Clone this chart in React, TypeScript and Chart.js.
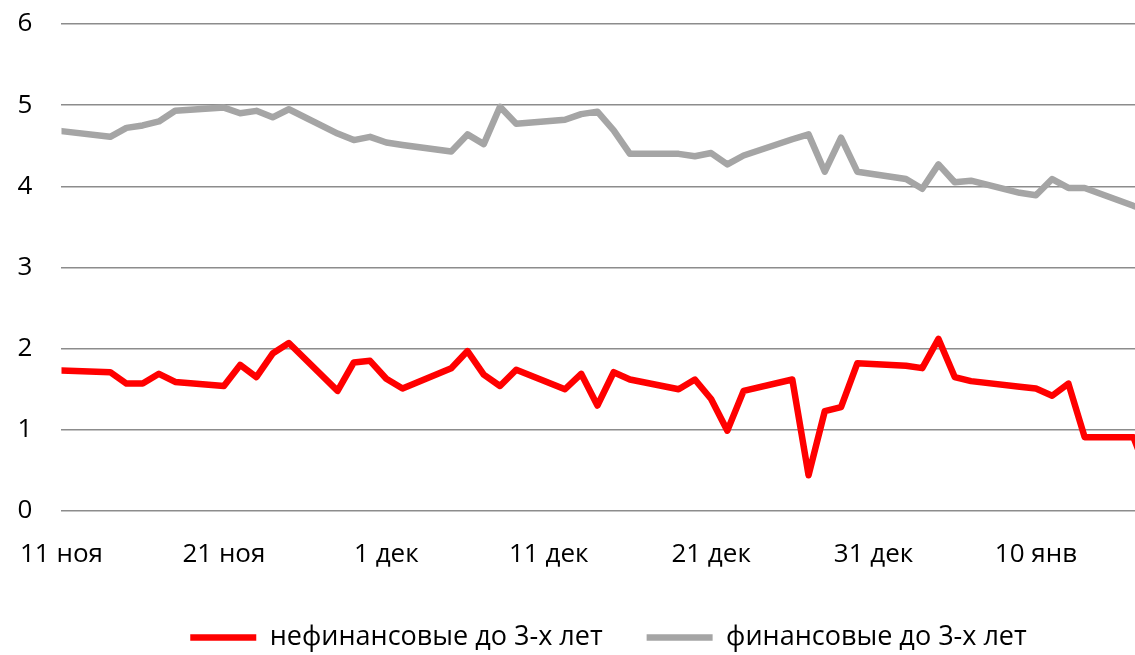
import React, { useEffect, useRef } from "react";
import { Chart, registerables } from "chart.js";

Chart.register(...registerables);

// trading days, counted from 11 Nov
const days = [0, 3, 4, 5, 6, 7, 10, 11, 12, 13, 14, 17, 18, 19, 20, 21, 24, 25, 26, 27, 28, 31, 32, 33, 34, 35, 38, 39, 40, 41, 42, 45, 46, 47, 48, 49, 52, 53, 54, 55, 56, 59, 60, 61, 62, 63, 66, 67];

const nonFinancial = [1.73, 1.71, 1.57, 1.57, 1.69, 1.59, 1.54, 1.80, 1.65, 1.94, 2.07, 1.48, 1.83, 1.85, 1.63, 1.51, 1.76, 1.97, 1.68, 1.54, 1.74, 1.50, 1.69, 1.30, 1.71, 1.62, 1.50, 1.62, 1.38, 0.99, 1.48, 1.62, 0.44, 1.23, 1.28, 1.82, 1.79, 1.76, 2.12, 1.65, 1.60, 1.53, 1.51, 1.42, 1.57, 0.91, 0.91, 0.40];

const financial = [4.68, 4.61, 4.72, 4.75, 4.80, 4.93, 4.97, 4.90, 4.93, 4.85, 4.95, 4.65, 4.57, 4.61, 4.54, 4.51, 4.43, 4.64, 4.52, 4.98, 4.77, 4.82, 4.89, 4.92, 4.69, 4.40, 4.40, 4.37, 4.41, 4.27, 4.38, 4.58, 4.64, 4.18, 4.60, 4.18, 4.09, 3.97, 4.27, 4.05, 4.07, 3.92, 3.89, 4.09, 3.98, 3.98, 3.76, 3.70];

const seriesNames = ["нефинансовые до 3-х лет", "финансовые до 3-х лет"];
const tickDays = [0, 10, 20, 30, 40, 50, 60];
const tickLabels = ["11 ноя", "21 ноя", "1 дек", "11 дек", "21 дек", "31 дек", "10 янв"];
const yTicks = [0, 1, 2, 3, 4, 5, 6];

const FONT = "'Open Sans'";

export default function App() {
  const canvasRef = useRef<HTMLCanvasElement | null>(null);

  useEffect(() => {
    const canvas = canvasRef.current;
    if (!canvas) return;

    const legendShift = {
      id: "legendShift",
      afterLayout(chart: any) {
        const lg = chart.legend;
        if (lg) {
          lg.left += 66;
          lg.top += 10;
          lg.bottom += 10;
        }
      },
    };

    const chart = new Chart(canvas, {
      type: "line",
      data: {
        datasets: [
          {
            label: seriesNames[0],
            data: days.map((d, i) => ({ x: d, y: nonFinancial[i] })),
            borderColor: "#FF0000",
            backgroundColor: "#FF0000",
            borderWidth: 6.5,
            pointRadius: 0,
            borderJoinStyle: "round",
            borderCapStyle: "round",
            fill: false,
            tension: 0,
          },
          {
            label: seriesNames[1],
            data: days.map((d, i) => ({ x: d, y: financial[i] })),
            borderColor: "#A5A5A5",
            backgroundColor: "#A5A5A5",
            borderWidth: 6.5,
            pointRadius: 0,
            borderJoinStyle: "round",
            borderCapStyle: "round",
            fill: false,
            tension: 0,
          },
        ],
      },
      options: {
        animation: false,
        responsive: false,
        maintainAspectRatio: false,
        layout: { padding: { top: 24, right: 0, left: 16, bottom: 4 } },
        plugins: {
          tooltip: { enabled: false },
          legend: {
            position: "bottom",
            labels: {
              usePointStyle: true,
              pointStyle: "line",
              pointStyleWidth: 66,
              color: "#000",
              padding: 44,
              font: { family: FONT, size: 27 },
            },
          },
        },
        scales: {
          x: {
            type: "linear",
            min: 0,
            max: 66.1,
            grid: { display: false },
            border: { display: false },
            afterBuildTicks(scale: any) {
              scale.ticks = tickDays.map((v) => ({ value: v }));
            },
            afterFit(scale: any) {
              scale.height = 59;
            },
            ticks: {
              color: "#000",
              padding: 20,
              maxRotation: 0,
              autoSkip: false,
              font: { family: FONT, size: 26 },
              callback: (v: any) => {
                const i = tickDays.indexOf(Number(v));
                return i >= 0 ? tickLabels[i] : "";
              },
            },
          },
          y: {
            min: 0,
            max: 6,
            border: { display: false },
            grid: { color: "#8c8c8c", lineWidth: 1.6, drawTicks: false },
            afterBuildTicks(scale: any) {
              scale.ticks = yTicks.map((v) => ({ value: v }));
            },
            afterFit(scale: any) {
              scale.width = 44;
            },
            ticks: {
              color: "#000",
              padding: 0,
              crossAlign: "far",
              font: { family: FONT, size: 26 },
            },
          },
        },
      },
      plugins: [legendShift],
    } as any);

    return () => chart.destroy();
  }, []);

  return (
    <div style={{ position: "fixed", left: 0, top: 0, width: 1135, height: 655, background: "#fff" }}>
      <canvas ref={canvasRef} width={1135} height={655} style={{ width: 1135, height: 655 }} />
    </div>
  );
}
